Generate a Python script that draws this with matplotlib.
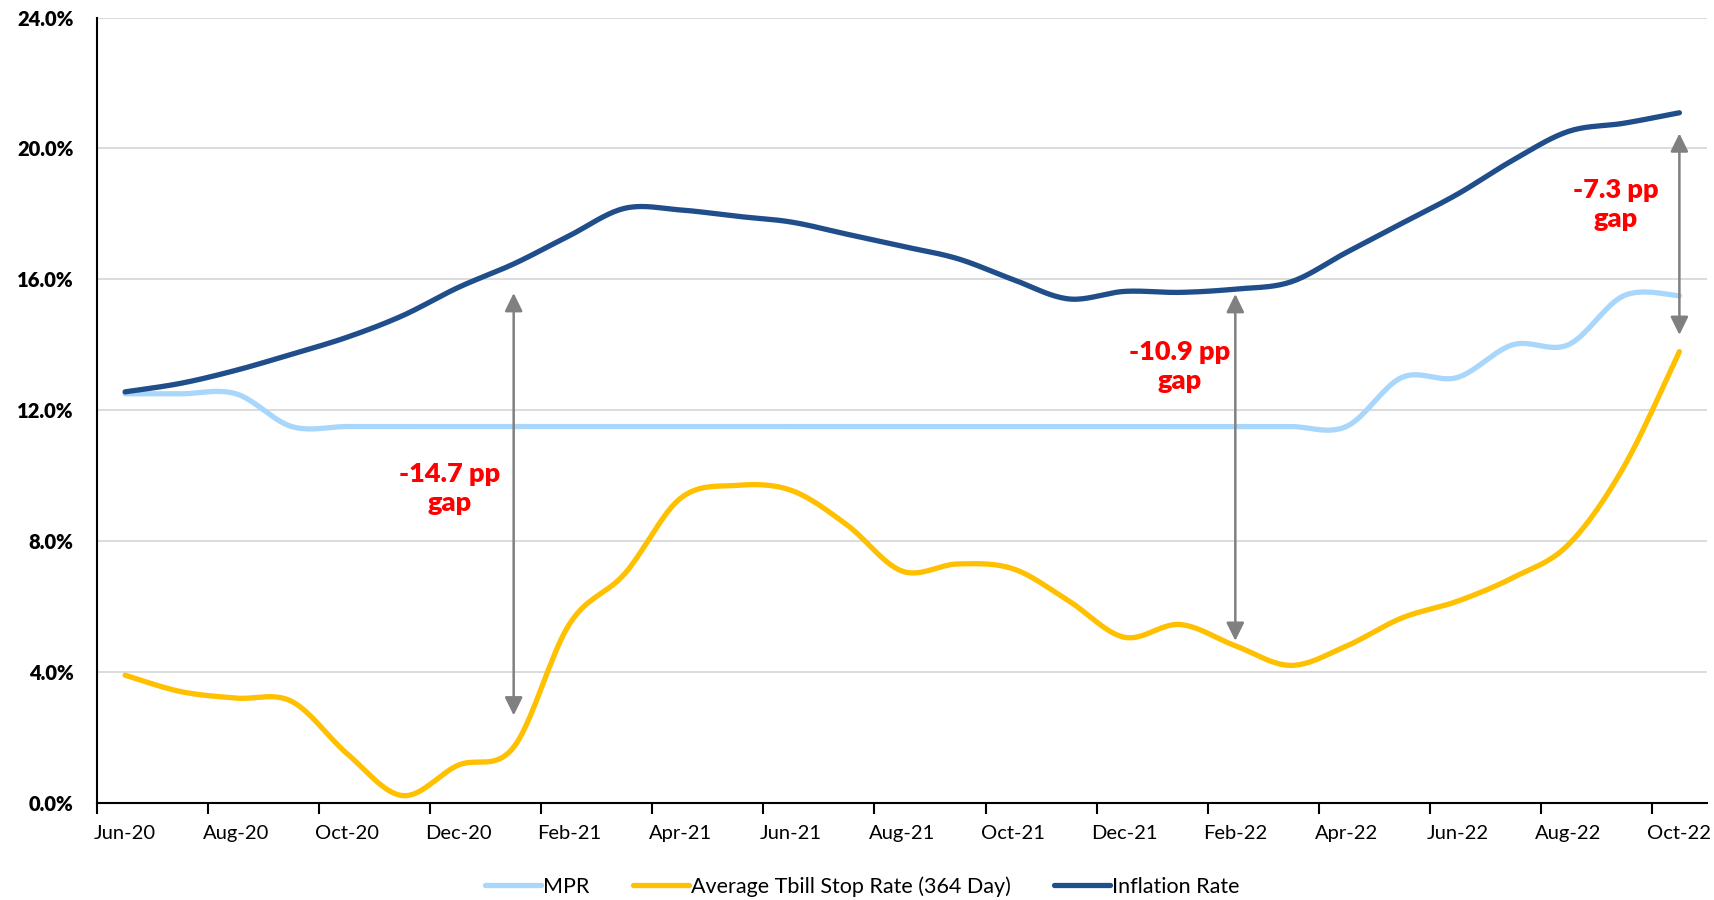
import matplotlib
matplotlib.use("Agg")
import matplotlib.pyplot as plt
import numpy as np

plt.rcParams['font.family'] = ['Lato', 'DejaVu Sans']

months = ['Jun-20', 'Jul-20', 'Aug-20', 'Sep-20', 'Oct-20', 'Nov-20', 'Dec-20',
          'Jan-21', 'Feb-21', 'Mar-21', 'Apr-21', 'May-21', 'Jun-21', 'Jul-21',
          'Aug-21', 'Sep-21', 'Oct-21', 'Nov-21', 'Dec-21', 'Jan-22', 'Feb-22',
          'Mar-22', 'Apr-22', 'May-22', 'Jun-22', 'Jul-22', 'Aug-22', 'Sep-22',
          'Oct-22']

mpr = [12.5, 12.5, 12.5, 11.5, 11.5, 11.5, 11.5, 11.5, 11.5, 11.5, 11.5, 11.5,
       11.5, 11.5, 11.5, 11.5, 11.5, 11.5, 11.5, 11.5, 11.5, 11.5, 11.5, 13.0,
       13.0, 14.0, 14.0, 15.5, 15.5]

tbill = [3.9, 3.4, 3.2, 3.1, 1.5, 0.22, 1.15, 1.7, 5.45, 7.0, 9.3, 9.7, 9.55,
         8.5, 7.08, 7.3, 7.15, 6.17, 5.06, 5.45, 4.8, 4.2, 4.79, 5.65, 6.16,
         6.88, 7.89, 10.27, 13.79]

inflation = [12.56, 12.82, 13.22, 13.71, 14.23, 14.89, 15.75, 16.47, 17.33,
             18.17, 18.12, 17.93, 17.75, 17.38, 17.01, 16.63, 15.99, 15.40,
             15.63, 15.60, 15.70, 15.92, 16.82, 17.71, 18.60, 19.64, 20.52,
             20.77, 21.09]

# gap annotations: month index, arrow top, arrow bottom, label
gap_idx = [7, 20, 28]
gap_top = [15.58, 15.55, 20.46]
gap_bottom = [2.67, 4.95, 14.30]
gap_labels = ['-14.7 pp\ngap', '-10.9 pp\ngap', '-7.3 pp\ngap']
gap_text_x = [5.84, 19.0, 26.85]
gap_text_y = [9.6, 13.35, 18.3]


def smooth(y, n=20):
    # excel-like smoothed line (bezier through the points)
    y = np.asarray(y, float)
    x = np.arange(len(y), dtype=float)
    xs, ys = [], []
    for i in range(len(y) - 1):
        x0, y0 = (x[i - 1], y[i - 1]) if i > 0 else (x[i], y[i])
        x3, y3 = (x[i + 2], y[i + 2]) if i + 2 < len(y) else (x[i + 1], y[i + 1])
        c1x = x[i] + (x[i + 1] - x0) / 6
        c1y = y[i] + (y[i + 1] - y0) / 6
        c2x = x[i + 1] - (x3 - x[i]) / 6
        c2y = y[i + 1] - (y3 - y[i]) / 6
        t = np.linspace(0, 1, n, endpoint=False)
        a, b, c, d = (1 - t) ** 3, 3 * (1 - t) ** 2 * t, 3 * (1 - t) * t ** 2, t ** 3
        xs.append(a * x[i] + b * c1x + c * c2x + d * x[i + 1])
        ys.append(a * y[i] + b * c1y + c * c2y + d * y[i + 1])
    xs.append([x[-1]])
    ys.append([y[-1]])
    return np.concatenate(xs), np.concatenate(ys)


fig = plt.figure(figsize=(17.14, 9), dpi=100)
ax = fig.add_axes([0.0568, 0.108, 0.9392, 0.8725])

series = [(mpr, '#A9D6FB', 'MPR'),
          (tbill, '#FFC000', 'Average Tbill Stop Rate (364 Day)'),
          (inflation, '#1F4E8A', 'Inflation Rate')]
for vals, col, name in series:
    sx, sy = smooth(vals)
    ax.plot(sx, sy, color=col, lw=3.8, label=name, solid_capstyle='round')

for i in range(len(gap_idx)):
    ax.annotate('', xy=(gap_idx[i], gap_top[i]), xytext=(gap_idx[i], gap_bottom[i]),
                arrowprops=dict(arrowstyle='<|-|>,head_length=0.55,head_width=0.27',
                                color='#808080', lw=1.8, mutation_scale=20,
                                shrinkA=0, shrinkB=0))
    ax.text(gap_text_x[i], gap_text_y[i], gap_labels[i], color='#FF0000',
            fontsize=19.5, fontweight='heavy', ha='center', va='center',
            linespacing=1.25)

ax.set_xlim(-0.5, len(months) - 0.5)
ax.set_ylim(0, 24)
ax.set_yticks(np.arange(0, 25, 4))
ax.set_yticklabels(['%.1f%%' % v for v in np.arange(0, 25, 4)],
                   fontsize=14.5, fontweight='heavy')
ax.tick_params(axis='y', length=0, pad=17)

ax.set_xticks(np.arange(0, len(months), 2))
ax.set_xticklabels(months[::2], fontsize=14.5)
ax.set_xticks(np.arange(-0.5, len(months), 2), minor=True)
ax.tick_params(axis='x', which='major', length=0, pad=16)
ax.tick_params(axis='x', which='minor', length=8, width=1.5, direction='out')

ax.grid(axis='y', color='#D9D9D9', lw=1.3)
ax.set_axisbelow(True)
for s in ['top', 'right']:
    ax.spines[s].set_visible(False)
for s in ['left', 'bottom']:
    ax.spines[s].set_linewidth(1.5)
    ax.spines[s].set_color('black')

fig.legend(loc='center', bbox_to_anchor=(0.503, 0.015), ncol=3, frameon=False,
           fontsize=15.5, handlelength=2.6, handletextpad=0.1, columnspacing=2.0)

fig.savefig('out.png', dpi=100)
